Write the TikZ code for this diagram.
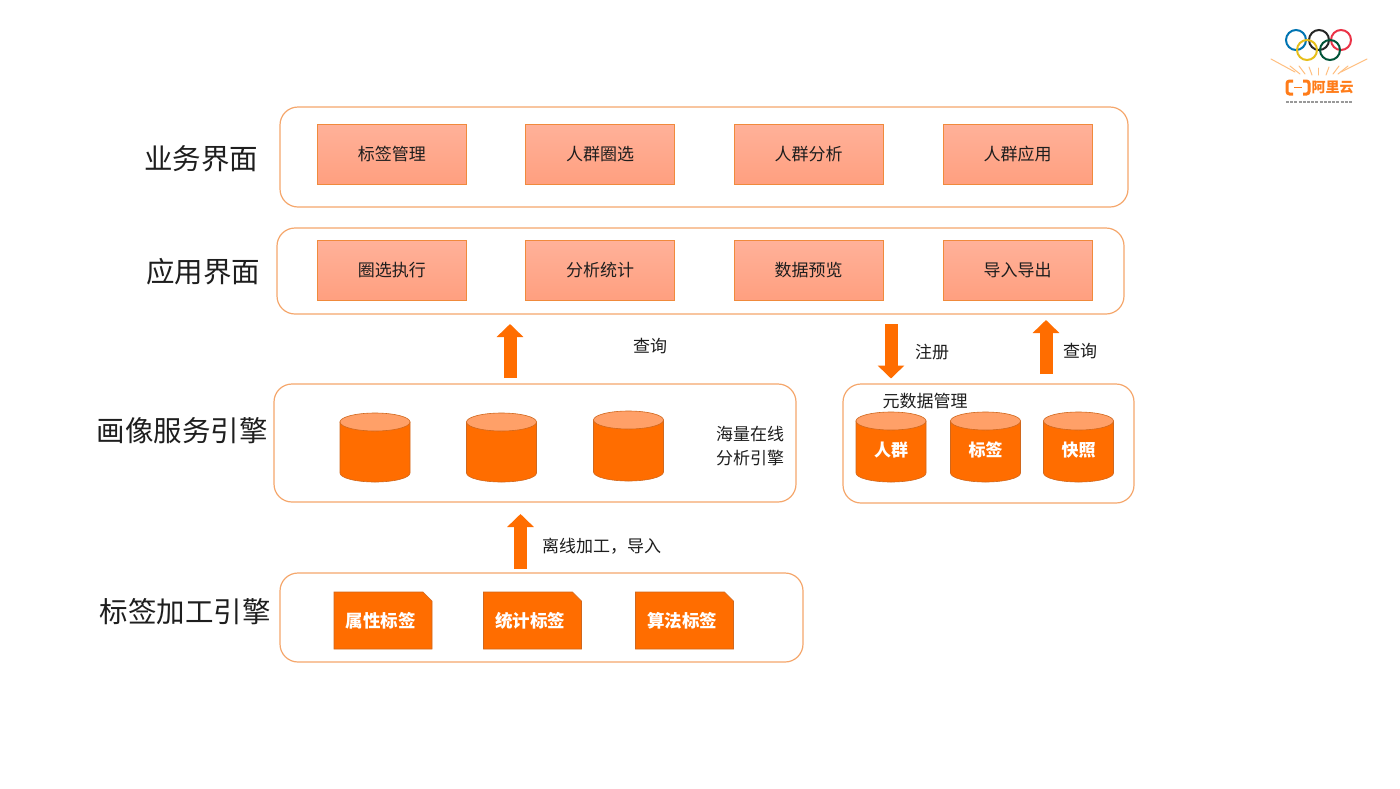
\documentclass[tikz,border=0pt]{standalone}
\usepackage{fontspec}
\setmainfont{Noto Sans CJK SC}
\usetikzlibrary{shapes.geometric,shapes.misc,arrows.meta}
\definecolor{org}{HTML}{FF6D00}
\definecolor{orgedge}{HTML}{D0671C}
\definecolor{orgtop}{HTML}{FFA068}
\definecolor{boxtop}{HTML}{FFB199}
\definecolor{boxbot}{HTML}{FF9F7F}
\definecolor{boxedge}{HTML}{F08A3C}
\definecolor{panelc}{HTML}{F5A76C}
\definecolor{ink}{HTML}{1E1E1E}
\newcommand{\lift}[1]{\raisebox{1pt}{#1}}
\newcommand{\shl}[1]{\raisebox{-1pt}{#1}\kern5pt}
\newcommand{\drum}[5]{% name, x-centre, y-top, y-bottom, text
  \fill[org,draw=orgedge,line width=0.6pt] (#2-35,#3+9) -- (#2-35,#4-9)
     arc[start angle=180,end angle=360,x radius=35pt,y radius=9pt] -- (#2+35,#3+9) -- cycle;
  \draw[fill=orgtop,draw=orgedge,line width=0.6pt] (#2,#3+9) ellipse[x radius=35pt,y radius=9pt];
  \node[drumt] (#1) at (#2,#3+38) {#5};
}
\tikzset{
  x=1pt,y=-1pt,
  panel/.style={draw=panelc,line width=1.2pt,rounded corners=18pt,fill=white},
  funcbox/.style={draw=boxedge,line width=1pt,top color=boxtop,bottom color=boxbot,
    minimum width=149pt,minimum height=60.5pt,inner sep=0pt,font=\fontsize{17}{20}\selectfont,text=ink},
  bigt/.style={font=\fontsize{28.5}{32}\selectfont,text=ink,inner sep=0pt},
  smallt/.style={font=\fontsize{17}{24}\selectfont,text=ink,inner sep=0pt,align=center},
  drumt/.style={inner sep=0pt,text=white,font=\fontsize{17}{20}\selectfont\bfseries},
  notecard/.style={chamfered rectangle,chamfered rectangle corners=north east,
    chamfered rectangle xsep=4.5pt,chamfered rectangle ysep=4.5pt,fill=org,draw=orgedge,line width=0.6pt,
    minimum width=98pt,minimum height=57pt,inner sep=0pt,text=white,
    font=\fontsize{17.5}{20}\selectfont\bfseries},
  blockarr/.style={draw=org,line width=13pt,-{Triangle[length=13pt,width=26pt]}},
  ring/.style={line width=2pt,draw=#1},
  beam/.style={line width=1pt,draw=orange!50!white,line cap=round},
}
\begin{document}
\begin{tikzpicture}
\useasboundingbox (0,0) rectangle (1400,788);
\fill[white] (0,0) rectangle (1400,788);

% panels
\draw[panel] (280,107) rectangle (1128,207);
\draw[panel] (277,228) rectangle (1124,314);
\draw[panel] (274,384) rectangle (796,502);
\draw[panel] (843,384) rectangle (1134,503);
\draw[panel] (280,573) rectangle (803,662);

% left titles
\node[bigt] (t1) at (201,159) {业务界面};
\node[bigt] (t2) at (203,272) {应用界面};
\node[bigt] (t3) at (182,431) {画像服务引擎};
\node[bigt] (t4) at (185,612) {标签加工引擎};

% function boxes
\node[funcbox] (b11) at (391.8,154.4) {\lift{标签管理}};
\node[funcbox] (b12) at (600.2,154.4) {\lift{人群圈选}};
\node[funcbox] (b13) at (808.5,154.4) {\lift{人群分析}};
\node[funcbox] (b14) at (1017.5,154.4) {\lift{人群应用}};
\node[funcbox] (b21) at (391.8,270.5) {\lift{圈选执行}};
\node[funcbox] (b22) at (600.2,270.5) {\lift{分析统计}};
\node[funcbox] (b23) at (808.5,270.5) {\lift{数据预览}};
\node[funcbox] (b24) at (1017.5,270.5) {\lift{导入导出}};

% cylinders
\drum{c1}{375}{413}{482}{}
\drum{c2}{501.5}{413}{482}{}
\drum{c3}{628.5}{411}{481}{}
\drum{m1}{891}{412}{482}{人群}
\drum{m2}{985.5}{412}{482}{标签}
\drum{m3}{1078.5}{412}{482}{快照}

% note cards
\node[notecard] (n1) at (383,620.5) {\shl{属性标签}};
\node[notecard] (n2) at (532.5,620.5) {\shl{统计标签}};
\node[notecard] (n3) at (684.5,620.5) {\shl{算法标签}};

% small labels
\node[smallt] (l1) at (650,346) {查询};
\node[smallt] (l2) at (932,352) {注册};
\node[smallt] (l3) at (1080,351) {查询};
\node[smallt] (l4) at (925,401) {元数据管理};
\node[smallt] (l5) at (750,446.5) {海量在线\\分析引擎};
\node[smallt] (l6) at (601.5,546) {离线加工，导入};

% block arrows
\coordinate (a1s) at (510,378); \coordinate (a1e) at (510,324);
\coordinate (a2s) at (891,324); \coordinate (a2e) at (891,378.5);
\coordinate (a3s) at (1046,374); \coordinate (a3e) at (1046,320);
\coordinate (a4s) at (520.5,569); \coordinate (a4e) at (520.5,514);
\draw[blockarr] (a1s) -- (a1e);
\draw[blockarr] (a2s) -- (a2e);
\draw[blockarr] (a3s) -- (a3e);
\draw[blockarr] (a4s) -- (a4e);

% logo
\draw[ring=blue!35!cyan!70!black] (1296,40) circle (10pt);
\draw[ring=black!85] (1319,40) circle (10pt);
\draw[ring=red!60!purple!80!white] (1341,40) circle (10pt);
\draw[ring=yellow!65!orange!90!black] (1307,50) circle (10pt);
\draw[ring=green!60!blue!55!black] (1330,50) circle (10pt);
\draw[beam] (1271,59) -- (1295,72);
\draw[beam] (1367,59) -- (1341,72);
\draw[beam] (1290,66) -- (1300,74);
\draw[beam] (1299,66) -- (1305,74);
\draw[beam] (1309,67) -- (1312,75);
\draw[beam] (1318.5,68) -- (1318.5,75);
\draw[beam] (1329,67) -- (1326,75);
\draw[beam] (1339,66) -- (1333,74);
\draw[beam] (1348,66) -- (1338,74);
\draw[org!90!white,line width=3pt,rounded corners=2.5pt] (1293,81) -- (1287,81) -- (1287,94) -- (1293,94);
\draw[org!90!white,line width=3pt,rounded corners=2.5pt] (1303,81) -- (1309,81) -- (1309,94) -- (1303,94);
\draw[org!90!white,line width=1.8pt] (1294,87.5) -- (1302,87.5);
\node[inner sep=0pt,text=org!90!white,font=\fontsize{14}{16}\selectfont\bfseries] (lg) at (1332.5,87.5) {阿里云};
\draw[black!40,line width=2pt,dash pattern=on 3pt off 1.2pt] (1286,101.5) -- (1352,101.5);
\end{tikzpicture}
\end{document}
